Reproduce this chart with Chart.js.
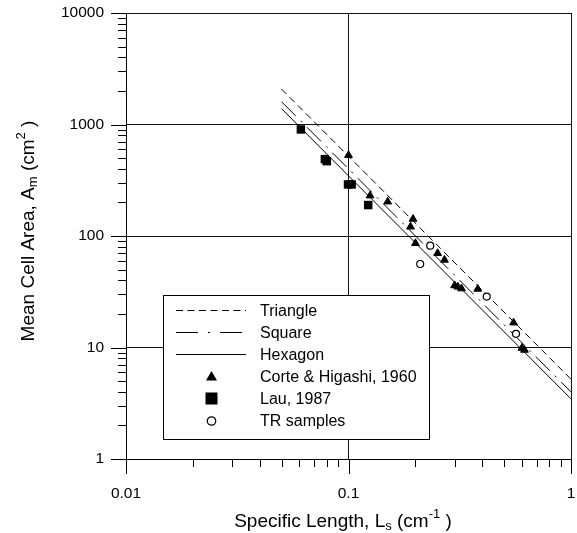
<!DOCTYPE html>
<html>
<head>
<meta charset="utf-8">
<script src="https://cdn.jsdelivr.net/npm/chart.js@4.4.1/dist/chart.umd.min.js"></script>
<style>
  html, body { margin: 0; padding: 0; background: #fff; }
  #wrap { width: 577px; height: 533px; }
</style>
</head>
<body>
<div id="wrap"><canvas id="chart" width="577" height="533"></canvas></div>
<script>
// theoretical lines, end points only
const lineX = [0.05, 1];
const triangleY = [2078, 5.196];
const squareY = [1600, 4];
const hexagonY = [1386, 3.464];

// Corte & Higashi, 1960
const corteX = [0.100, 0.125, 0.150, 0.190, 0.195, 0.200, 0.2515, 0.270, 0.300, 0.310, 0.322, 0.381, 0.552, 0.602, 0.618];
const corteY = [531, 230, 203, 121, 142, 86, 70, 61, 36, 35, 33.8, 33.5, 16.7, 9.9, 9.5];

// Lau, 1987
const lauX = [0.0611, 0.0783, 0.0799, 0.0995, 0.1033, 0.1226];
const lauY = [903, 489, 469, 290, 290, 189.5];

// TR samples
const trX = [0.210, 0.233, 0.418, 0.566];
const trY = [56.1, 81.9, 28.6, 13.25];

const xTicks = [0.01, 0.1, 1];
const yTicks = [1, 10, 100, 1000, 10000];

const FONT = "'Liberation Sans', Arial, sans-serif";

function pts(xs, ys) {
  return xs.map((x, i) => ({ x: x, y: ys[i] }));
}

// draws text pieces side by side, centred on x; piece = [text, size, dy]
function drawRuns(ctx, runs, x, y) {
  let total = 0;
  runs.forEach(r => {
    ctx.font = r[1] + "px " + FONT;
    total += ctx.measureText(r[0]).width;
  });
  let cx = x - total / 2;
  runs.forEach(r => {
    ctx.font = r[1] + "px " + FONT;
    ctx.fillText(r[0], cx, y + r[2]);
    cx += ctx.measureText(r[0]).width;
  });
}

const tickMarks = {
  id: "tickMarks",
  afterDraw(chart) {
    const ctx = chart.ctx;
    const xs = chart.scales.x;
    const ys = chart.scales.y;
    const area = chart.chartArea;
    ctx.save();
    ctx.strokeStyle = "#000";
    ctx.lineWidth = 1;
    ctx.beginPath();
    for (let d = -2; d <= 0; d++) {
      for (let m = 1; m <= 9; m++) {
        const v = m * Math.pow(10, d);
        if (v > 1.0001) continue;
        const px = Math.round(xs.getPixelForValue(v)) + 0.5;
        ctx.moveTo(px, area.bottom);
        ctx.lineTo(px, area.bottom + (m === 1 ? 15 : 8));
      }
    }
    for (let d = 0; d <= 4; d++) {
      for (let m = 1; m <= 9; m++) {
        const v = m * Math.pow(10, d);
        if (v > 10000.1) continue;
        const py = Math.round(ys.getPixelForValue(v)) + 0.5;
        ctx.moveTo(area.left, py);
        ctx.lineTo(area.left - (m === 1 ? 15 : 8), py);
      }
    }
    ctx.stroke();

    // axis titles with sub/superscripts
    ctx.fillStyle = "#000";
    ctx.textBaseline = "alphabetic";
    drawRuns(ctx, [
      ["Specific Length, L", 19, 0],
      ["s", 13, 3],
      [" (cm", 19, 0],
      ["-1", 13, -9],
      [" )", 19, 0]
    ], 343, 527);

    ctx.translate(34, 231);
    ctx.rotate(-Math.PI / 2);
    drawRuns(ctx, [
      ["Mean Cell Area, A", 19, 0],
      ["m", 13, 3],
      [" (cm", 19, 0],
      ["2", 13, -9],
      [" )", 19, 0]
    ], 0, 0);
    ctx.restore();
  }
};

const boxLegend = {
  id: "boxLegend",
  afterDatasetsDraw(chart) {
    const ctx = chart.ctx;
    ctx.save();
    ctx.fillStyle = "#fff";
    ctx.fillRect(163.5, 295.5, 266, 144);
    ctx.strokeStyle = "#000";
    ctx.lineWidth = 1;
    ctx.strokeRect(163.5, 295.5, 266, 144);

    const rows = [310.5, 332.5, 354.5, 376.5, 398.5, 421];
    const names = ["Triangle", "Square", "Hexagon", "Corte & Higashi, 1960", "Lau, 1987", "TR samples"];
    const dashes = [[7, 4.5], [22, 10, 2, 10], []];
    for (let i = 0; i < 3; i++) {
      ctx.setLineDash(dashes[i]);
      ctx.beginPath();
      ctx.moveTo(176, rows[i]);
      ctx.lineTo(246, rows[i]);
      ctx.stroke();
    }
    ctx.setLineDash([]);
    const mx = 211.5;
    ctx.fillStyle = "#000";
    ctx.beginPath();
    ctx.moveTo(mx, rows[3] - 5.5);
    ctx.lineTo(mx + 5.5, rows[3] + 4);
    ctx.lineTo(mx - 5.5, rows[3] + 4);
    ctx.closePath();
    ctx.fill();
    ctx.fillRect(mx - 6, rows[4] - 6, 12, 12);
    ctx.fillStyle = "#fff";
    ctx.beginPath();
    ctx.arc(mx, rows[5], 4.2, 0, Math.PI * 2);
    ctx.fill();
    ctx.lineWidth = 1.3;
    ctx.stroke();

    ctx.fillStyle = "#000";
    ctx.font = "16px " + FONT;
    ctx.textBaseline = "middle";
    names.forEach((n, i) => ctx.fillText(n, 260, rows[i] + 1));
    ctx.restore();
  }
};

const lineStyle = {
  type: "line",
  borderColor: "#000",
  borderWidth: 1,
  pointRadius: 0,
  fill: false,
  order: 1
};

new Chart(document.getElementById("chart"), {
  type: "scatter",
  data: {
    datasets: [
      { ...lineStyle, label: "Triangle", data: pts(lineX, triangleY), borderDash: [7, 4.5] },
      { ...lineStyle, label: "Square", data: pts(lineX, squareY), borderDash: [20, 7, 2, 7] },
      { ...lineStyle, label: "Hexagon", data: pts(lineX, hexagonY) },
      {
        label: "Corte & Higashi, 1960",
        data: pts(corteX, corteY),
        pointStyle: "triangle",
        pointRadius: 4.5,
        backgroundColor: "#000",
        borderColor: "#000",
        borderWidth: 1,
        order: 0
      },
      {
        label: "Lau, 1987",
        data: pts(lauX, lauY),
        pointStyle: "rect",
        pointRadius: 6,
        backgroundColor: "#000",
        borderColor: "#000",
        borderWidth: 0,
        order: 0
      },
      {
        label: "TR samples",
        data: pts(trX, trY),
        pointStyle: "circle",
        pointRadius: 3.5,
        backgroundColor: "#fff",
        borderColor: "#000",
        borderWidth: 1.2,
        order: 0
      }
    ]
  },
  options: {
    responsive: false,
    animation: false,
    layout: { padding: { top: 13, right: 0, left: 0, bottom: 0 } },
    plugins: {
      legend: { display: false },
      tooltip: { enabled: false }
    },
    scales: {
      x: {
        type: "logarithmic",
        min: 0.01,
        max: 1,
        afterBuildTicks: s => { s.ticks = xTicks.map(v => ({ value: v })); },
        afterFit: s => { s.height = 74; },
        ticks: {
          callback: v => String(v),
          color: "#000",
          font: { family: FONT, size: 15.5 },
          padding: 0,
          maxRotation: 0,
          autoSkip: false
        },
        grid: { color: "#111", lineWidth: 1, drawTicks: true, tickLength: 25, tickColor: "rgba(0,0,0,0)" },
        border: { color: "#000", width: 1 }
      },
      y: {
        type: "logarithmic",
        min: 1,
        max: 10000,
        afterBuildTicks: s => { s.ticks = yTicks.map(v => ({ value: v })); },
        afterFit: s => { s.width = 126; },
        ticks: {
          callback: v => String(v),
          color: "#000",
          font: { family: FONT, size: 15.5 },
          padding: 0,
          autoSkip: false
        },
        grid: { color: "#111", lineWidth: 1, drawTicks: true, tickLength: 22, tickColor: "rgba(0,0,0,0)" },
        border: { color: "#000", width: 1 }
      }
    }
  },
  plugins: [tickMarks, boxLegend]
});
</script>
</body>
</html>
